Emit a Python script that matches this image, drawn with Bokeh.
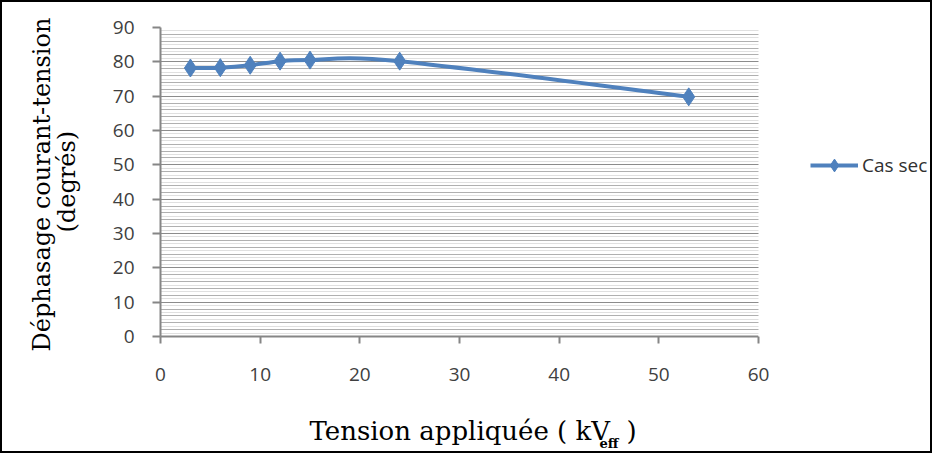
import numpy as np
from bokeh.plotting import figure
from bokeh.models import (Range1d, SingleIntervalTicker, FixedTicker, Grid, Legend,
                          LegendItem, ColumnDataSource, Title, BoxAnnotation)
from bokeh.embed import file_html
from bokeh.resources import INLINE

# ---- data ----
tension = [3, 6, 9, 12, 15, 24, 53]               # kV eff
dephasage = [78.2, 78.3, 79.0, 80.2, 80.5, 80.2, 69.8]  # degrés
series_name = "Cas sec"
x_tick_values = [0, 10, 20, 30, 40, 50, 60]
y_tick_values = [0, 10, 20, 30, 40, 50, 60, 70, 80, 90]
NBSP = "\u00a0"
x_title = "Tension appliquée ( kV" + NBSP * 2 + ")"
x_title_sub = "eff"
y_title_1 = "Déphasage courant-tension"
y_title_2 = "(degrés)"

BLUE = "#4F81BD"
AXIS_GRAY = "#868686"
SERIF = "DejaVu Serif"
SANS = "Open Sans"

# layout (pixels)
W, H = 932, 453
LEFT, TOP, RIGHT, BOTTOM = 158, 25, 2, 119
PLOT_W = 598                      # width of the plotted area (0..60)
FRAME_W = W - LEFT - RIGHT
x_end = x_tick_values[-1] * FRAME_W / PLOT_W

p = figure(width=W, height=H, output_backend="svg", toolbar_location=None,
           x_range=Range1d(x_tick_values[0], x_end),
           y_range=Range1d(y_tick_values[0], y_tick_values[-1]),
           min_border_left=LEFT, min_border_right=RIGHT, min_border_top=TOP,
           min_border_bottom=BOTTOM)
p.styles = {"border": "2px solid black"}
p.outline_line_color = None
p.background_fill_color = "white"

# axes
p.xaxis.ticker = FixedTicker(ticks=x_tick_values)
p.yaxis.ticker = FixedTicker(ticks=y_tick_values)
p.xaxis.bounds = (x_tick_values[0], x_tick_values[-1])
for ax in (p.xaxis, p.yaxis):
    ax.axis_line_color = AXIS_GRAY
    ax.axis_line_width = 2
    ax.major_tick_line_color = AXIS_GRAY
    ax.major_tick_line_width = 2
    ax.major_tick_in = 0
    ax.minor_tick_line_color = None
    ax.major_label_text_font = SANS
    ax.major_label_text_font_size = "19px"
    ax.major_label_text_color = "#404040"
    # blank spacer label: pushes the titles away from the axis
    ax.axis_label = NBSP
    ax.axis_label_text_font_size = "1px"
p.xaxis.major_tick_out = 7
p.xaxis.major_label_standoff = 24
p.xaxis.axis_label_standoff = 28
p.yaxis.major_tick_out = 8
p.yaxis.major_label_standoff = 18
p.yaxis.axis_label_standoff = 25

# grids
p.xgrid.grid_line_color = None
p.ygrid.ticker = SingleIntervalTicker(interval=10, num_minor_ticks=5)
p.ygrid.grid_line_color = "#8c8c8c"
p.ygrid.grid_line_width = 1
p.ygrid.minor_grid_line_color = "#b0b0b0"
p.ygrid.minor_grid_line_width = 1
odd_lines = list(range(1, y_tick_values[-1], 2))
extra = Grid(dimension=1, ticker=FixedTicker(ticks=odd_lines),
             grid_line_color="#c0c0c0", grid_line_dash="1 1", grid_line_width=1)
p.add_layout(extra)
# blank area to the right of the plot (legend zone)
p.add_layout(BoxAnnotation(left=x_tick_values[-1], fill_color="white", fill_alpha=1,
                           line_color=None))

# smoothed line (Excel-style Catmull-Rom Bezier through the data points)
xs = np.array(tension, dtype=float)
ys = np.array(dephasage, dtype=float)
px = np.concatenate([[xs[0]], xs[:-2]]); py = np.concatenate([[ys[0]], ys[:-2]])
nx = np.concatenate([xs[2:], [xs[-1]]]); ny = np.concatenate([ys[2:], [ys[-1]]])
x0, y0, x1, y1 = xs[:-1], ys[:-1], xs[1:], ys[1:]
seg = ColumnDataSource(dict(x0=x0, y0=y0, x1=x1, y1=y1,
                            cx0=x0 + (x1 - px) / 6, cy0=y0 + (y1 - py) / 6,
                            cx1=x1 - (nx - x0) / 6, cy1=y1 - (ny - y0) / 6))
curve = p.bezier(x0="x0", y0="y0", x1="x1", y1="y1", cx0="cx0", cy0="cy0",
                 cx1="cx1", cy1="cy1", source=seg, line_color=BLUE, line_width=4)

src = ColumnDataSource(dict(x=tension, y=dephasage))
pts = p.scatter("x", "y", source=src, marker="diamond", size=18,
                fill_color=BLUE, line_color=BLUE)

legend = Legend(items=[LegendItem(label=series_name, renderers=[curve, pts])],
                location=(650, 155), padding=0, margin=0, spacing=0,
                glyph_width=48, glyph_height=32, label_standoff=4,
                border_line_color=None, background_fill_alpha=0,
                label_text_font=SANS, label_text_font_size="19px",
                label_text_color="#303030")
p.add_layout(legend)

# axis titles
p.add_layout(Title(text=x_title, align="left", offset=149, standoff=0,
                   vertical_align="top",
                   text_font=SERIF, text_font_size="26px", text_font_style="normal",
                   text_color="black"), "below")
p.add_layout(Title(text=x_title_sub, align="left", offset=439, standoff=-24,
                   vertical_align="top",
                   text_font=SERIF, text_font_size="13px", text_font_style="bold",
                   text_color="black"), "below")
p.add_layout(Title(text=y_title_2, align="left", offset=104, standoff=0,
                   text_font=SERIF, text_font_size="24px", text_font_style="normal",
                   text_color="black"), "left")
p.add_layout(Title(text=y_title_1, align="left", offset=-15, standoff=-10,
                   text_font=SERIF, text_font_size="24px", text_font_style="normal",
                   text_color="black"), "left")

open("out.html", "w").write(file_html(p, INLINE))
